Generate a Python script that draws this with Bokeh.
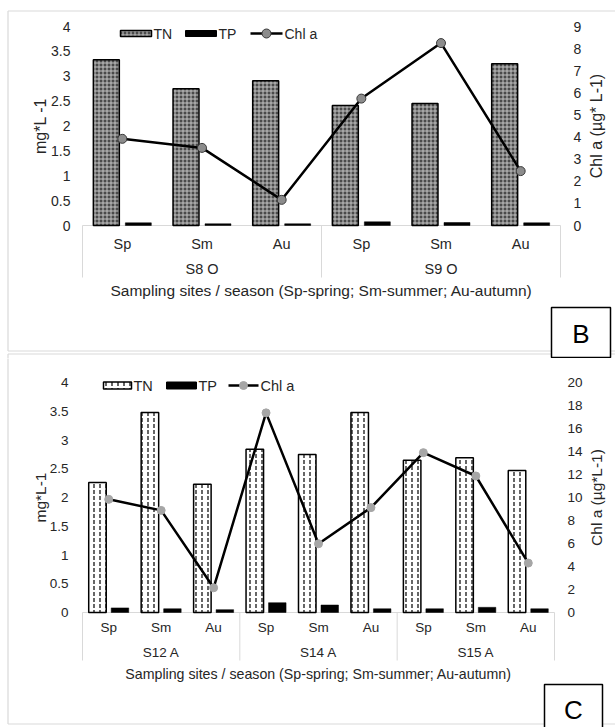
import numpy as np
from bokeh.plotting import figure
from bokeh.models import Range1d
from bokeh.layouts import column
from bokeh.embed import file_html
from bokeh.resources import INLINE
from bokeh.core.properties import value

# ---------------- data ----------------
seasons = ["Sp", "Sm", "Au"]

sites_b = ["S8 O", "S9 O"]
tn_b = [3.33, 2.75, 2.91, 2.41, 2.45, 3.25]
tp_b = [0.054, 0.034, 0.034, 0.074, 0.06, 0.054]
chl_b = [3.92, 3.51, 1.16, 5.74, 8.25, 2.46]

sites_c = ["S12 A", "S14 A", "S15 A"]
tn_c = [2.26, 3.48, 2.23, 2.84, 2.75, 3.48, 2.65, 2.69, 2.47]
tp_c = [0.08, 0.065, 0.05, 0.17, 0.13, 0.065, 0.065, 0.09, 0.065]
chl_c = [9.84, 8.88, 2.15, 17.36, 5.98, 9.12, 13.9, 11.87, 4.3]

left_ticks = [0, 0.5, 1, 1.5, 2, 2.5, 3, 3.5, 4]
left_tick_labels = ["0", "0.5", "1", "1.5", "2", "2.5", "3", "3.5", "4"]
chl_ticks_b = [0, 1, 2, 3, 4, 5, 6, 7, 8, 9]
chl_ticks_c = [0, 2, 4, 6, 8, 10, 12, 14, 16, 18, 20]

x_title = "Sampling sites / season (Sp-spring; Sm-summer; Au-autumn)"

FONT = "Liberation Sans"
TXT = "#262626"
GRID = "#d9d9d9"


def fs(px):
    return value(f"{px}px")


def make_panel(sites, tn, tp, chl, chl_ticks, cfg):
    W, H = cfg["W"], cfg["H"]
    n = len(sites) * len(seasons)
    upx = (cfg["box_right"] - cfg["box_left"]) / n
    zero, top = cfg["zero_y"], cfg["top_y"]
    ppu = (zero - top) / left_ticks[-1]
    ppc = (zero - top) / chl_ticks[-1]

    p = figure(width=W, height=H, output_backend="svg", toolbar_location=None, tools="",
               x_range=Range1d(-cfg["box_left"] / upx, n + (W - cfg["box_right"]) / upx),
               y_range=Range1d(-(H - zero) / ppu, zero / ppu),
               x_axis_location=None, y_axis_location=None, min_border=0,
               outline_line_color=None, background_fill_color="white",
               border_fill_color="white")
    p.xgrid.grid_line_color = None
    p.ygrid.grid_line_color = None
    p.extra_y_ranges = {"chl": Range1d(-(H - zero) / ppc, zero / ppc),
                        "px": Range1d(H, 0)}
    p.extra_x_ranges = {"px": Range1d(0, W)}

    cats = [(s, se) for s in sites for se in seasons]
    idx = np.arange(n)
    xc = idx + 0.5

    # panel borders
    b = cfg["borders"]
    p.multi_line(xs=b["xs"], ys=b["ys"], x_range_name="px", y_range_name="px",
                 line_color=GRID, line_width=1.2)

    # category box
    p.segment(x0=[0], y0=[0], x1=[n], y1=[0], line_color=GRID, line_width=1)
    seps = [g * len(seasons) for g in range(len(sites) + 1)]
    p.segment(x0=seps, y0=[zero] * len(seps), x1=seps, y1=[cfg["box_bottom"]] * len(seps),
              y_range_name="px", line_color=GRID, line_width=1)

    # bars
    p.vbar(x=xc - cfg["off"], width=cfg["bw"], top=tn, bottom=0, **cfg["tn_style"])
    p.vbar(x=xc + cfg["off"], width=cfg["bw"], top=tp, bottom=0,
           fill_color="black", line_color="black", line_width=0.5)

    # chl line
    p.line(x=xc, y=chl, y_range_name="chl", line_color="black", line_width=2.5)
    p.scatter(x=xc, y=chl, y_range_name="chl", marker="circle", **cfg["mk_style"])

    tf = cfg["font"]
    # left ticks
    p.text(x=[cfg["lt_x"]] * len(left_ticks), y=left_ticks, text=left_tick_labels,
           x_range_name="px", text_font=value(FONT), text_font_size=fs(tf),
           text_color=TXT, text_align="right", text_baseline="middle")
    # right ticks
    p.text(x=[cfg["rt_x"]] * len(chl_ticks), y=chl_ticks, text=[str(t) for t in chl_ticks],
           x_range_name="px", y_range_name="chl", text_font=value(FONT), text_font_size=fs(tf),
           text_color=TXT, text_align="left", text_baseline="middle")
    # axis titles
    p.text(x=[cfg["lti_x"]], y=[left_ticks[-1] / 2], text=[cfg["ltitle"]], angle=np.pi / 2,
           x_range_name="px", text_font=value(FONT), text_font_size=fs(cfg["vfont"]),
           text_color=TXT, text_align="center", text_baseline="middle")
    p.text(x=[cfg["rti_x"]], y=[chl_ticks[-1] / 2], text=[cfg["rtitle"]], angle=np.pi / 2,
           x_range_name="px", y_range_name="chl", text_font=value(FONT),
           text_font_size=fs(cfg["vfont"]), text_color=TXT, text_align="center",
           text_baseline="middle")
    # category labels
    p.text(x=xc, y=[cfg["cat_y"]] * n, text=[c[1] for c in cats], y_range_name="px",
           text_font=value(FONT), text_font_size=fs(cfg["cfont"]), text_color=TXT,
           text_align="center", text_baseline="middle")
    gx = [g * len(seasons) + len(seasons) / 2 for g in range(len(sites))]
    p.text(x=gx, y=[cfg["grp_y"]] * len(sites), text=sites, y_range_name="px",
           text_font=value(FONT), text_font_size=fs(cfg["cfont"]), text_color=TXT,
           text_align="center", text_baseline="middle")
    p.text(x=[n / 2], y=[cfg["xt_y"]], text=[x_title], y_range_name="px",
           text_font=value(FONT), text_font_size=fs(cfg["tfont"]), text_color=TXT,
           text_align="center", text_baseline="middle")

    # legend (manual)
    L = cfg["leg"]
    ly = L["y"]
    sh = L["sh"]
    p.quad(left=[L["tn"][0]], right=[L["tn"][1]], top=[ly - sh / 2], bottom=[ly + sh / 2],
           x_range_name="px", y_range_name="px", **cfg["tn_style"])
    p.quad(left=[L["tp"][0]], right=[L["tp"][1]], top=[ly - sh / 2], bottom=[ly + sh / 2],
           x_range_name="px", y_range_name="px", fill_color="black", line_color="black")
    p.segment(x0=[L["ln"][0]], y0=[ly], x1=[L["ln"][1]], y1=[ly], x_range_name="px",
              y_range_name="px", line_color="black", line_width=2.5)
    p.scatter(x=[(L["ln"][0] + L["ln"][1]) / 2], y=[ly], x_range_name="px", y_range_name="px",
              marker="circle", **cfg["mk_style"])
    p.text(x=[L["tn"][1] + 2, L["tp"][1] + 2, L["ln"][1] + 2], y=[ly] * 3,
           text=["TN", "TP", "Chl a"], x_range_name="px", y_range_name="px",
           text_font=value(FONT), text_font_size=fs(L["font"]), text_color=TXT,
           text_align="left", text_baseline="middle")

    # panel letter box
    bx = cfg["lbox"]
    p.quad(left=[bx[0]], right=[bx[1]], top=[bx[2]], bottom=[bx[3]], x_range_name="px",
           y_range_name="px", fill_color="white", line_color="black", line_width=1.5)
    p.text(x=[(bx[0] + bx[1]) / 2], y=[cfg["letter_y"]], text=[cfg["letter"]],
           x_range_name="px", y_range_name="px", text_font=value(FONT),
           text_font_size=fs(26), text_color="black", text_align="center",
           text_baseline="middle")
    return p


HB = 358
cfg_b = dict(
    W=615, H=HB, box_left=82, box_right=560, zero_y=225, top_y=26,
    bw=0.326, off=0.2008, box_bottom=277,
    borders=dict(xs=[[7.5, 7.5], [7.5, 620], [7.5, 620], [7.5, 620], [7.5, 7.5]],
                 ys=[[10.5, 350.5], [10.5, 10.5], [350.5, 350.5], [353.5, 353.5], [353.5, HB + 2]]),
    tn_style=dict(fill_color="#4a4a4a", hatch_pattern="+", hatch_color="#c4c4c4",
                  hatch_scale=4, hatch_weight=1, line_color="black", line_width=1.5),
    mk_style=dict(size=9, fill_color="#8c8c8c", line_color="#3a3a3a", line_width=1),
    font=14, cfont=14.5, tfont=15.5, vfont=16, lt_x=70, rt_x=573, lti_x=40, rti_x=596,
    ltitle="mg*L -1", rtitle="Chl a (µg* L-1)",
    cat_y=243, grp_y=268, xt_y=290,
    leg=dict(y=33, sh=6, tn=(120, 151), tp=(185, 216), ln=(250, 282), font=14),
    lbox=(551, 610, 307, 357), letter="B", letter_y=333,
)

OFF = HB
cfg_c = dict(
    W=615, H=727 - OFF, box_left=82, box_right=554, zero_y=612 - OFF, top_y=382 - OFF,
    bw=0.334, off=0.2145, box_bottom=660 - OFF,
    borders=dict(xs=[[7.5, 7.5], [7.5, 620]],
                 ys=[[-2, 723.5 - OFF], [723.5 - OFF, 723.5 - OFF]]),
    tn_style=dict(fill_color="white", hatch_pattern=":", hatch_color="black",
                  hatch_scale=6, hatch_weight=1.2, line_color="black", line_width=1.5),
    mk_style=dict(size=8, fill_color="#a6a6a6", line_color="#a6a6a6", line_width=1),
    font=13.5, cfont=13.5, tfont=14.2, vfont=15.5, lt_x=68, rt_x=567, lti_x=40, rti_x=596,
    ltitle="mg*L-1", rtitle="Chl a (µg*L-1)",
    cat_y=627 - OFF, grp_y=652 - OFF, xt_y=673 - OFF,
    leg=dict(y=385 - OFF, sh=7, tn=(103, 131), tp=(166, 196), ln=(228, 258), font=14.5),
    lbox=(544, 602, 684 - OFF, 740 - OFF), letter="C", letter_y=709 - OFF,
)

pb = make_panel(sites_b, tn_b, tp_b, chl_b, chl_ticks_b, cfg_b)
pc = make_panel(sites_c, tn_c, tp_c, chl_c, chl_ticks_c, cfg_c)

layout = column(pb, pc, spacing=0)
open("out.html", "w").write(file_html(layout, INLINE))
